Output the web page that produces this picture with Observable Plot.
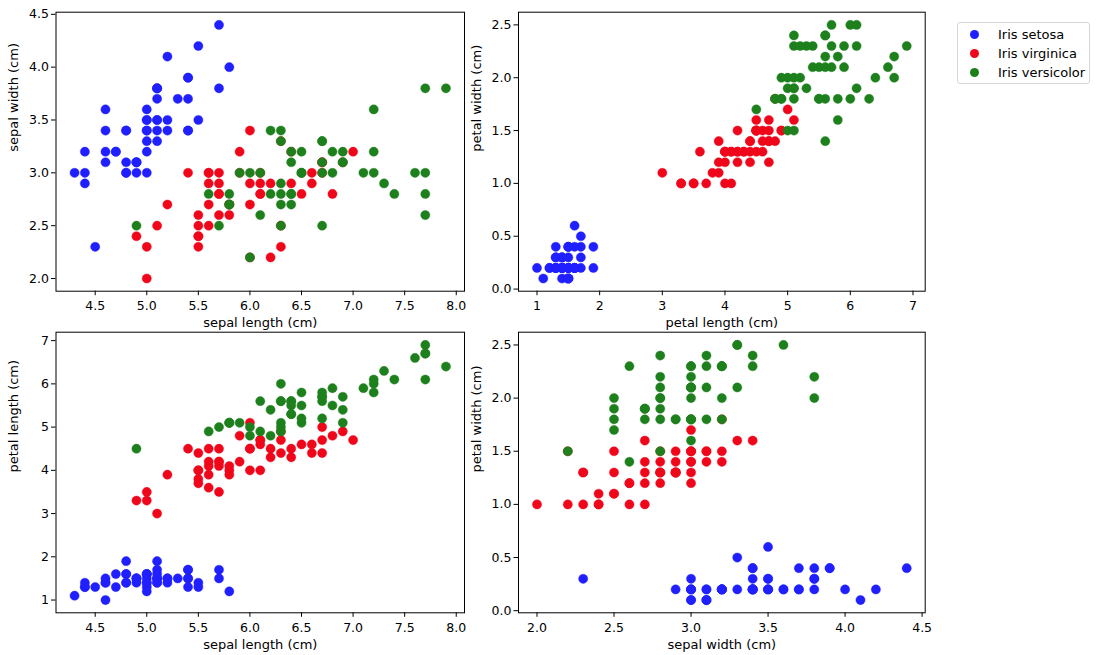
<!DOCTYPE html>
<html>
<head>
<meta charset="utf-8">
<script src="https://cdn.jsdelivr.net/npm/d3@7"></script>
<script src="https://cdn.jsdelivr.net/npm/@observablehq/plot@0.6"></script>
<style>
  html, body { margin: 0; padding: 0; background: #fff; }
  #fig { position: relative; width: 1096px; height: 655px; font-family: "DejaVu Sans", sans-serif; }
  #fig svg { position: absolute; left: 0; top: 0; }
  #legend { position: absolute; left: 957px; top: 22px; width: 133px; height: 62px; border: 1px solid #d6d6d6; border-radius: 3px; background: #fff; box-sizing: border-box; font-size: 13px; color: #000; }
  .lrow { position: absolute; left: 0; height: 16px; line-height: 16px; white-space: nowrap; }
  .ldot { position: absolute; left: 12px; top: 3px; width: 9.4px; height: 9.4px; border-radius: 50%; }
  .ltxt { position: absolute; left: 40px; top: 0; }
</style>
</head>
<body>
<div id="fig"></div>
<script>
// ---- Data (Iris dataset, as plotted) ----
const legendLabels = ["Iris setosa", "Iris virginica", "Iris versicolor"];

const setosaSepalLength = [5.1,4.9,4.7,4.6,5.0,5.4,4.6,5.0,4.4,4.9,5.4,4.8,4.8,4.3,5.8,5.7,5.4,5.1,5.7,5.1,5.4,5.1,4.6,5.1,4.8,5.0,5.0,5.2,5.2,4.7,4.8,5.4,5.2,5.5,4.9,5.0,5.5,4.9,4.4,5.1,5.0,4.5,4.4,5.0,5.1,4.8,5.1,4.6,5.3,5.0];
const setosaSepalWidth  = [3.5,3.0,3.2,3.1,3.6,3.9,3.4,3.4,2.9,3.1,3.7,3.4,3.0,3.0,4.0,4.4,3.9,3.5,3.8,3.8,3.4,3.7,3.6,3.3,3.4,3.0,3.4,3.5,3.4,3.2,3.1,3.4,4.1,4.2,3.1,3.2,3.5,3.1,3.0,3.4,3.5,2.3,3.2,3.5,3.8,3.0,3.8,3.2,3.7,3.3];
const setosaPetalLength = [1.4,1.4,1.3,1.5,1.4,1.7,1.4,1.5,1.4,1.5,1.5,1.6,1.4,1.1,1.2,1.5,1.3,1.4,1.7,1.5,1.7,1.5,1.0,1.7,1.9,1.6,1.6,1.5,1.4,1.6,1.6,1.5,1.5,1.4,1.5,1.2,1.3,1.5,1.3,1.5,1.3,1.3,1.3,1.6,1.9,1.4,1.6,1.4,1.5,1.4];
const setosaPetalWidth  = [0.2,0.2,0.2,0.2,0.2,0.4,0.3,0.2,0.2,0.1,0.2,0.2,0.1,0.1,0.2,0.4,0.4,0.3,0.3,0.3,0.2,0.4,0.2,0.5,0.2,0.2,0.4,0.2,0.2,0.2,0.2,0.4,0.1,0.2,0.1,0.2,0.2,0.1,0.2,0.2,0.3,0.3,0.2,0.6,0.4,0.3,0.2,0.2,0.2,0.2];

// drawn in red, labelled "Iris virginica"
const redSepalLength = [7.0,6.4,6.9,5.5,6.5,5.7,6.3,4.9,6.6,5.2,5.0,5.9,6.0,6.1,5.6,6.7,5.6,5.8,6.2,5.6,5.9,6.1,6.3,6.1,6.4,6.6,6.8,6.7,6.0,5.7,5.5,5.5,5.8,6.0,5.4,6.0,6.7,6.3,5.6,5.5,5.5,6.1,5.8,5.0,5.6,5.7,5.7,6.2,5.1,5.7];
const redSepalWidth  = [3.2,3.2,3.1,2.3,2.8,2.8,3.3,2.4,2.9,2.7,2.0,3.0,2.2,2.9,2.9,3.1,3.0,2.7,2.2,2.5,3.2,2.8,2.5,2.8,2.9,3.0,2.8,3.0,2.9,2.6,2.4,2.4,2.7,2.7,3.0,3.4,3.1,2.3,3.0,2.5,2.6,3.0,2.6,2.3,2.7,3.0,2.9,2.9,2.5,2.8];
const redPetalLength = [4.7,4.5,4.9,4.0,4.6,4.5,4.7,3.3,4.6,3.9,3.5,4.2,4.0,4.7,3.6,4.4,4.5,4.1,4.5,3.9,4.8,4.0,4.9,4.7,4.3,4.4,4.8,5.0,4.5,3.5,3.8,3.7,3.9,5.1,4.5,4.5,4.7,4.4,4.1,4.0,4.4,4.6,4.0,3.3,4.2,4.2,4.2,4.3,3.0,4.1];
const redPetalWidth  = [1.4,1.5,1.5,1.3,1.5,1.3,1.6,1.0,1.3,1.4,1.0,1.5,1.0,1.4,1.3,1.4,1.5,1.0,1.5,1.1,1.8,1.3,1.5,1.2,1.3,1.4,1.4,1.7,1.5,1.0,1.1,1.0,1.2,1.6,1.5,1.6,1.5,1.3,1.3,1.3,1.2,1.4,1.2,1.0,1.3,1.2,1.3,1.3,1.1,1.3];

// drawn in green, labelled "Iris versicolor"
const greenSepalLength = [6.3,5.8,7.1,6.3,6.5,7.6,4.9,7.3,6.7,7.2,6.5,6.4,6.8,5.7,5.8,6.4,6.5,7.7,7.7,6.0,6.9,5.6,7.7,6.3,6.7,7.2,6.2,6.1,6.4,7.2,7.4,7.9,6.4,6.3,6.1,7.7,6.3,6.4,6.0,6.9,6.7,6.9,5.8,6.8,6.7,6.7,6.3,6.5,6.2,5.9];
const greenSepalWidth  = [3.3,2.7,3.0,2.9,3.0,3.0,2.5,2.9,2.5,3.6,3.2,2.7,3.0,2.5,2.8,3.2,3.0,3.8,2.6,2.2,3.2,2.8,2.8,2.7,3.3,3.2,2.8,3.0,2.8,3.0,2.8,3.8,2.8,2.8,2.6,3.0,3.4,3.1,3.0,3.1,3.1,3.1,2.7,3.2,3.3,3.0,2.5,3.0,3.4,3.0];
const greenPetalLength = [6.0,5.1,5.9,5.6,5.8,6.6,4.5,6.3,5.8,6.1,5.1,5.3,5.5,5.0,5.1,5.3,5.5,6.7,6.9,5.0,5.7,4.9,6.7,4.9,5.7,6.0,4.8,4.9,5.6,5.8,6.1,6.4,5.6,5.1,5.6,6.1,5.6,5.5,4.8,5.4,5.6,5.1,5.1,5.9,5.7,5.2,5.0,5.2,5.4,5.1];
const greenPetalWidth  = [2.5,1.9,2.1,1.8,2.2,2.1,1.7,1.8,1.8,2.5,2.0,1.9,2.1,2.0,2.4,2.3,1.8,2.2,2.3,1.5,2.3,2.0,2.0,1.8,2.1,1.8,1.8,1.8,2.1,1.6,1.9,2.0,2.2,1.5,1.4,2.3,2.4,1.8,1.8,2.1,2.4,2.3,1.9,2.3,2.5,2.3,1.9,2.0,2.3,1.8];

const featureLabels = {sl: "sepal length (cm)", sw: "sepal width (cm)", pl: "petal length (cm)", pw: "petal width (cm)"};
const sepalLengthTicks = [4.5,5.0,5.5,6.0,6.5,7.0,7.5,8.0];
const sepalWidthTicks  = [2.0,2.5,3.0,3.5,4.0,4.5];
const petalLengthTicks = [1,2,3,4,5,6,7];
const petalWidthTicks  = [0.0,0.5,1.0,1.5,2.0,2.5];

// ---- Build table ----
const groups = [
  [legendLabels[0], setosaSepalLength, setosaSepalWidth, setosaPetalLength, setosaPetalWidth],
  [legendLabels[1], redSepalLength, redSepalWidth, redPetalLength, redPetalWidth],
  [legendLabels[2], greenSepalLength, greenSepalWidth, greenPetalLength, greenPetalWidth]
];
const rows = groups.flatMap(([label, sl, sw, pl, pw]) =>
  sl.map((v, i) => ({species: label, sl: v, sw: sw[i], pl: pl[i], pw: pw[i]})));

const colors = ["#1f1fff", "#f0061a", "#1d801d"];

// matplotlib-style 5% auto margins
function padded(key) {
  const [a, b] = d3.extent(rows, d => d[key]);
  const m = (b - a) * 0.05;
  return [a - m, b + m];
}

const W = 1096, H = 655;
const panels = [
  {x: "sl", y: "sw", xt: sepalLengthTicks, yt: sepalWidthTicks, xf: ".1f", yf: ".1f", box: [55.5, 11.7, 464, 290.7]},
  {x: "pl", y: "pw", xt: petalLengthTicks, yt: petalWidthTicks, xf: "d",   yf: ".1f", box: [518, 11.7, 924.7, 290.7]},
  {x: "sl", y: "pl", xt: sepalLengthTicks, yt: petalLengthTicks, xf: ".1f", yf: "d",  box: [55.5, 331.7, 464, 612.3]},
  {x: "sw", y: "pw", xt: sepalWidthTicks, yt: petalWidthTicks, xf: ".1f", yf: ".1f", box: [518, 331.7, 924.7, 612.3]}
];

const fig = document.getElementById("fig");
for (const p of panels) {
  const [x0, y0, x1, y1] = p.box;
  const chart = Plot.plot({
    width: W, height: H,
    marginLeft: x0, marginRight: W - x1, marginTop: y0, marginBottom: H - y1,
    style: {fontFamily: "DejaVu Sans, sans-serif", fontSize: "12.5px", color: "#000", background: "transparent", overflow: "visible"},
    x: {domain: padded(p.x)},
    y: {domain: padded(p.y)},
    color: {domain: legendLabels, range: colors},
    marks: [
      Plot.dot(rows, {x: p.x, y: p.y, fill: "species", r: 4.6, stroke: "species", strokeWidth: 0.4}),
      Plot.frame({stroke: "#000", strokeWidth: 1}),
      Plot.axisX({ticks: p.xt, tickFormat: d3.format(p.xf), tickSize: 4.5, tickPadding: 5.5, label: null}),
      Plot.axisY({ticks: p.yt, tickFormat: d3.format(p.yf), tickSize: 4.5, tickPadding: 2.5, label: null}),
      Plot.text([featureLabels[p.x]], {text: d => d, frameAnchor: "bottom", dy: 26.5, lineAnchor: "top", fontSize: 13}),
      Plot.text([featureLabels[p.y]], {text: d => d, frameAnchor: "left", dx: -42, rotate: -90, fontSize: 13})
    ]
  });
  fig.appendChild(chart);
}

// ---- Legend ----
const legend = document.createElement("div");
legend.id = "legend";
legendLabels.forEach((lab, i) => {
  const row = document.createElement("div");
  row.className = "lrow";
  row.style.top = (3.5 + i * 19) + "px";
  const dot = document.createElement("span");
  dot.className = "ldot";
  dot.style.background = colors[i];
  const txt = document.createElement("span");
  txt.className = "ltxt";
  txt.textContent = lab;
  row.appendChild(dot);
  row.appendChild(txt);
  legend.appendChild(row);
});
fig.appendChild(legend);
</script>
</body>
</html>
